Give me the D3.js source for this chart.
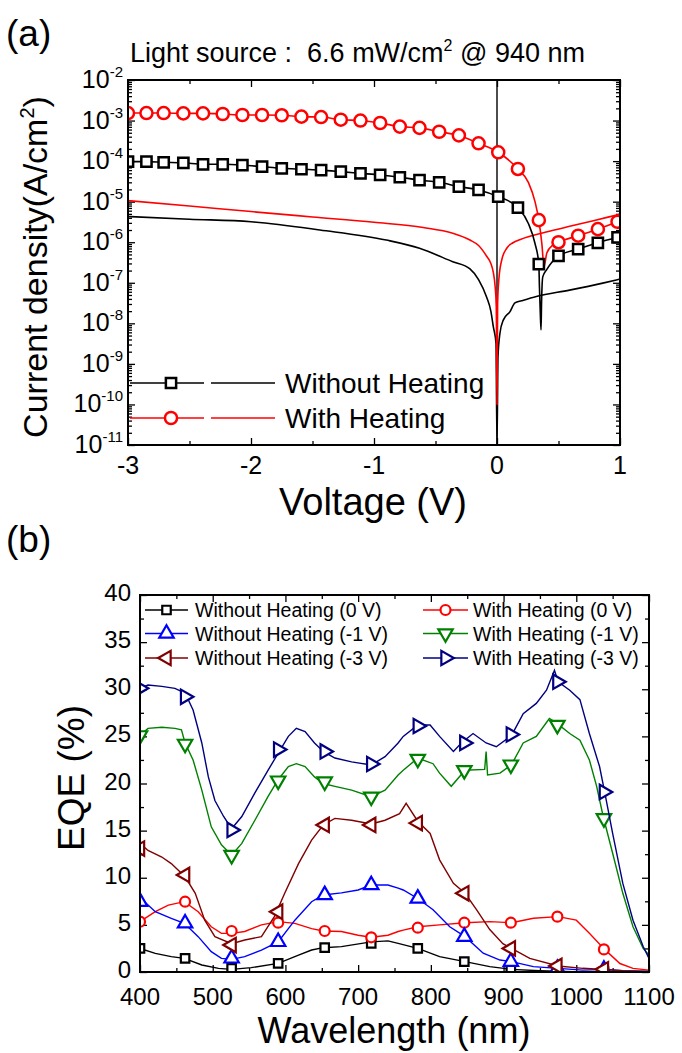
<!DOCTYPE html>
<html><head><meta charset="utf-8">
<script src="https://cdn.jsdelivr.net/npm/d3@7"></script>
<style>
body{margin:0;background:#fff}
svg{display:block}
text{font-family:"Liberation Sans",Arial,sans-serif;fill:#000}
</style>
</head><body>
<svg id="c" width="682" height="1053"></svg>
<script>
// ---------------- (a) J-V data ----------------
const markerV = [-3.00,-2.85,-2.71,-2.55,-2.39,-2.23,-2.07,-1.91,-1.75,-1.59,-1.43,-1.27,-1.11,-0.95,-0.79,-0.63,-0.47,-0.31,-0.15,0.01,0.17,0.34,0.50,0.66,0.82,0.98];
const lightWith = [1.53e-3,1.53e-3,1.53e-3,1.5e-3,1.5e-3,1.45e-3,1.37e-3,1.37e-3,1.35e-3,1.25e-3,1.22e-3,1.05e-3,1.0e-3,8.7e-4,7.1e-4,6.6e-4,5.3e-4,4.3e-4,2.75e-4,1.65e-4,6.4e-5,3.5e-6,1.0e-6,1.45e-6,2.1e-6,3.2e-6];
const lightWithout = [9.7e-5,9.7e-5,9.35e-5,9.1e-5,8.35e-5,8.35e-5,8.0e-5,7.3e-5,6.65e-5,6.3e-5,6.0e-5,5.5e-5,5.0e-5,4.55e-5,4.0e-5,3.4e-5,3.0e-5,2.35e-5,1.94e-5,1.33e-5,7.1e-6,2.9e-7,4.6e-7,6.8e-7,9.7e-7,1.32e-6];
const lightWithDip = [[0.255,3.0e-5],[0.309,1.0e-5],[0.365,9e-7],[0.382,2.5e-7],[0.405,5.4e-7],[0.455,8.5e-7]];
const lightWithoutDip = [[0.255,2.9e-6],[0.309,9.3e-7],[0.345,8e-8],[0.352,1.8e-8],[0.358,6.9e-9],[0.362,3e-8],[0.372,1.4e-7],[0.404,2.1e-7]];
const darkWith = [[-3.0,1.06e-5],[-2.5,7.8e-6],[-2.0,5.7e-6],[-1.5,4.2e-6],[-1.0,3.1e-6],[-0.6,2.3e-6],[-0.36,1.66e-6],[-0.22,1.13e-6],[-0.15,8.3e-7],[-0.084,4.5e-7],[-0.05,3.0e-7],[-0.03,1.8e-7],[-0.015,8e-8],[-0.006,2.6e-8],[0,1e-10],[0.005,3e-8],[0.015,1.2e-7],[0.038,3.6e-7],[0.079,7.1e-7],[0.13,9.7e-7],[0.19,1.17e-6],[0.4,1.78e-6],[0.6,2.5e-6],[0.8,3.5e-6],[1.0,4.9e-6]];
const darkWithout = [[-3.0,4.3e-6],[-2.5,3.7e-6],[-2.0,3.2e-6],[-1.44,2.0e-6],[-0.9,1.13e-6],[-0.63,7.1e-7],[-0.36,3.3e-7],[-0.22,2.2e-7],[-0.15,1.2e-7],[-0.084,4.4e-8],[-0.05,2.0e-8],[-0.03,8.3e-9],[-0.008,3.2e-9],[0,1e-11],[0.008,1.5e-9],[0.024,5.7e-9],[0.051,1.2e-8],[0.106,1.95e-8],[0.146,3.2e-8],[0.2,3.6e-8],[0.32,4.6e-8],[0.59,6.6e-8],[0.86,9.8e-8],[0.97,1.17e-7],[1.0,1.23e-7]];
const voltTicks = [-3,-2,-1,0,1];
const voltMinor = [-2.5,-1.5,-0.5,0.5];
const decadeExps = [-2,-3,-4,-5,-6,-7,-8,-9,-10,-11];
const legendA = ["Without Heating","With Heating"];

// ---------------- (b) EQE data ----------------
const markerNm = [400,462,526,590,654,718,782,846,910,974,1038];
const eqeW0 = [2.5,1.45,0.39,0.92,2.58,3.04,2.5,1.1,0.2,0.05,0.03];
const eqeH0 = [5.34,7.46,4.35,5.23,4.35,3.68,4.7,5.23,5.23,5.87,2.4];
const eqeW1 = [7.46,5.17,1.45,3.2,8.17,9.23,7.8,3.75,1.1,0.35,0.25];
const eqeH1 = [25.1,24.2,12.4,20.3,20.2,18.6,22.6,21.4,22.0,26.2,16.3];
const eqeW3 = [13.1,10.3,2.86,6.4,15.6,15.6,15.8,8.35,2.5,0.64,0.29];
const eqeH3 = [30.1,29.2,15.07,23.6,23.4,22.07,26.1,24.3,25.2,30.8,19.1];
const specW0 = [[400,2.5],[421,1.98],[443,1.63],[461,1.45],[485,0.74],[508,0.39],[526,0.28],[553,0.46],[590,0.92],[618,1.8],[636,2.33],[652,2.58],[677,2.69],[718,3.2],[741,3.3],[755,3.04],[782,2.5],[812,1.63],[847,1.1],[881,0.57],[911,0.28],[950,0.14],[996,0.04],[1100,0.0]];
const specH0 = [[400,5.34],[421,6.4],[439,7.1],[461,7.46],[480,6.4],[498,4.8],[512,4.1],[526,4.1],[544,4.3],[567,5.0],[590,5.34],[613,5.16],[636,4.6],[652,4.35],[677,4.3],[700,3.9],[718,3.68],[741,3.9],[755,4.3],[762,4.45],[782,4.8],[812,5.0],[847,5.23],[881,5.34],[911,5.23],[941,5.7],[975,5.87],[1000,5.5],[1018,4.1],[1039,2.4],[1060,0.9],[1078,0.39],[1100,0.2]];
const specW1 = [[400,7.9],[421,6.4],[443,5.7],[461,5.16],[480,3.75],[498,2.16],[512,1.45],[526,1.34],[544,1.63],[567,2.33],[590,3.2],[613,5.5],[636,7.46],[652,8.17],[677,8.4],[700,8.7],[718,9.23],[741,9.23],[755,8.9],[762,8.7],[782,7.8],[803,6.6],[826,4.8],[847,3.75],[872,2.0],[895,1.27],[911,1.1],[941,0.57],[975,0.39],[1009,0.2],[1039,0.28],[1064,0.14],[1100,0.07]];
const specH1 = [[400,25.1],[411,25.85],[430,25.96],[448,25.85],[457,25.7],[462,24.3],[473,22.5],[485,19.3],[498,15.4],[512,13.5],[526,12.4],[540,13.65],[558,16.1],[576,18.6],[590,20.4],[604,21.8],[615,22.1],[627,21.8],[640,20.7],[652,20.0],[668,19.7],[691,19.3],[718,18.6],[737,19.3],[755,20.9],[762,21.4],[782,22.7],[803,22.1],[812,21.1],[828,19.7],[847,21.4],[874,21.5],[876,23.4],[878,20.9],[895,21.1],[911,22.0],[927,24.3],[945,25.0],[963,26.9],[973,26.4],[991,25.3],[1005,24.6],[1018,22.5],[1028,19.7],[1037,16.5],[1050,12.6],[1064,8.35],[1078,4.8],[1092,2.5],[1100,1.8]];
const specW3 = [[400,13.65],[411,12.9],[430,12.2],[443,11.5],[462,10.1],[476,8.35],[489,5.5],[503,3.75],[526,3.0],[544,3.4],[567,3.75],[585,5.9],[599,8.35],[618,11.5],[636,14.0],[652,15.6],[668,16.3],[691,16.1],[718,15.7],[737,16.1],[757,16.8],[766,17.9],[782,16.0],[799,14.7],[812,11.9],[831,9.4],[847,8.35],[863,6.6],[881,4.5],[899,3.0],[911,2.5],[936,1.45],[975,0.64],[1009,0.39],[1037,0.28],[1064,0.14],[1100,0.07]];
const specH3 = [[400,30.1],[411,30.45],[430,30.3],[448,30.1],[462,29.6],[473,27.8],[485,24.3],[494,20.7],[503,18.2],[515,16.5],[526,15.2],[540,16.5],[558,19.0],[576,21.4],[590,23.2],[604,25.0],[615,25.85],[627,25.5],[640,24.3],[652,23.4],[668,22.7],[691,22.3],[718,21.96],[737,22.85],[755,24.3],[762,25.0],[782,26.2],[799,26.2],[812,25.0],[831,23.4],[842,24.3],[858,25.3],[876,24.3],[890,23.9],[911,25.1],[927,27.4],[945,28.5],[959,29.9],[970,32.0],[975,30.8],[991,29.9],[1005,28.9],[1018,25.3],[1032,21.8],[1039,19.1],[1050,14.7],[1064,9.4],[1078,5.5],[1092,2.7],[1100,1.45]];
const nmTicks = [400,500,600,700,800,900,1000,1100];
const nmMinor = [450,550,650,750,850,950,1050];
const eqeTicks = [0,5,10,15,20,25,30,35,40];
const eqeMinor = [2.5,7.5,12.5,17.5,22.5,27.5,32.5,37.5];
const legendB = ["Without Heating (0 V)","With Heating (0 V)","Without Heating (-1 V)","With Heating (-1 V)","Without Heating (-3 V)","With Heating (-3 V)"];

// ---------------- drawing ----------------
const svg = d3.select('#c');
const defs = svg.append('defs');

function symbolPath(type, size){
  const map = {square:d3.symbolSquare, circle:d3.symbolCircle, up:d3.symbolTriangle, down:d3.symbolTriangle, left:d3.symbolTriangle, right:d3.symbolTriangle};
  return d3.symbol(map[type], size)();
}
const rot = {square:0,circle:0,up:0,down:180,left:-90,right:90};
function drawMarker(g, type, x, y, color, size, sw){
  g.append('path').attr('d', symbolPath(type,size))
    .attr('transform', `translate(${x},${y}) rotate(${rot[type]})`)
    .attr('fill','#fff').attr('stroke',color).attr('stroke-width',sw);
}
function styleAxis(g, sw){
  g.select('.domain').remove();
  g.selectAll('.tick line').attr('stroke','#000').attr('stroke-width',sw);
  g.selectAll('.tick text').remove();
}

// ===== (a) =====
const ax = d3.scaleLinear().domain([-3,1]).range([128,620]);
const ay = d3.scaleLog().domain([1e-11,1e-2]).range([445,80]);
const [aL,aR] = ax.range(), [aB,aT] = ay.range();
defs.append('clipPath').attr('id','clipA').append('rect').attr('x',aL).attr('y',aT).attr('width',aR-aL).attr('height',aB-aT);

const gA = svg.append('g');
const aMajor = decadeExps.map(e=>Math.pow(10,e));
const aMinor = [];
decadeExps.slice(1).forEach(e=>{ for(let m=2;m<=9;m++) aMinor.push(m*Math.pow(10,e)); });

[[d3.axisBottom(ax).tickValues(voltTicks).tickSize(-7), `translate(0,${aB})`],
 [d3.axisBottom(ax).tickValues(voltMinor).tickSize(-4), `translate(0,${aB})`],
 [d3.axisTop(ax).tickValues(voltTicks).tickSize(-7), `translate(0,${aT})`],
 [d3.axisTop(ax).tickValues(voltMinor).tickSize(-4), `translate(0,${aT})`],
 [d3.axisLeft(ay).tickValues(aMajor).tickSize(-7), `translate(${aL},0)`],
 [d3.axisLeft(ay).tickValues(aMinor).tickSize(-4), `translate(${aL},0)`],
 [d3.axisRight(ay).tickValues(aMajor).tickSize(-7), `translate(${aR},0)`],
 [d3.axisRight(ay).tickValues(aMinor).tickSize(-4), `translate(${aR},0)`]
].forEach(([axis,tr])=>{ const g=gA.append('g').attr('transform',tr).call(axis.tickSizeOuter(0)); styleAxis(g,1.3); });

// zero line
gA.append('line').attr('x1',ax(0)).attr('x2',ax(0)).attr('y1',aT).attr('y2',aB).attr('stroke','#000').attr('stroke-width',1.4);

const plotA = gA.append('g').attr('clip-path','url(#clipA)');
const lineA = d3.line().x(d=>ax(d[0])).y(d=>ay(d[1])).curve(d3.curveMonotoneX);
plotA.append('path').datum(darkWithout).attr('d',lineA).attr('fill','none').attr('stroke','#000').attr('stroke-width',1.6);
plotA.append('path').datum(darkWith).attr('d',lineA).attr('fill','none').attr('stroke','#ff0000').attr('stroke-width',1.6);
const withPts = markerV.map((v,i)=>[v,lightWith[i]]).concat(lightWithDip).sort((a,b)=>a[0]-b[0]);
const withoutPts = markerV.map((v,i)=>[v,lightWithout[i]]).concat(lightWithoutDip).sort((a,b)=>a[0]-b[0]);
plotA.append('path').datum(withoutPts).attr('d',lineA).attr('fill','none').attr('stroke','#000').attr('stroke-width',1.6);
plotA.append('path').datum(withPts).attr('d',lineA).attr('fill','none').attr('stroke','#ff0000').attr('stroke-width',1.6);
markerV.forEach((v,i)=>drawMarker(plotA,'square',ax(v),ay(lightWithout[i]),'#000',105,2.5));
markerV.forEach((v,i)=>drawMarker(plotA,'circle',ax(v),ay(lightWith[i]),'#ff0000',115,2.5));

gA.append('rect').attr('x',aL).attr('y',aT).attr('width',aR-aL).attr('height',aB-aT).attr('fill','none').attr('stroke','#000').attr('stroke-width',2);

// tick labels (a)
voltTicks.forEach(v=>{
  gA.append('text').attr('x',ax(v)).attr('y',aB+29).attr('text-anchor','middle').attr('font-size',25).text(v);
});
decadeExps.forEach(e=>{
  const t = gA.append('text').attr('x',aL-5).attr('y',ay(Math.pow(10,e))+8).attr('text-anchor','end').attr('font-size',25);
  t.append('tspan').text('10');
  t.append('tspan').attr('dy',-11).attr('font-size',15).text(e);
});
// axis titles (a)
gA.append('text').attr('x',373).attr('y',515).attr('text-anchor','middle').attr('font-size',38).text('Voltage (V)');
const ylabA = gA.append('text').attr('transform','translate(47,267) rotate(-90)').attr('text-anchor','middle').attr('font-size',34);
ylabA.append('tspan').text('Current density(A/cm');
ylabA.append('tspan').attr('dy',-13).attr('font-size',20).text('2');
ylabA.append('tspan').attr('dy',13).text(')');
// title
const titleA = svg.append('text').attr('x',130).attr('y',62).attr('font-size',27);
titleA.append('tspan').text('Light source :\u00a0 6.6 mW/cm');
titleA.append('tspan').attr('dy',-11).attr('font-size',16).text('2');
titleA.append('tspan').attr('dy',11).text(' @ 940 nm');
svg.append('text').attr('x',6).attr('y',46).attr('font-size',37).text('(a)');

// legend (a)
[[383,'square','#000'],[418,'circle','#ff0000']].forEach(([y,type,col],i)=>{
  gA.append('line').attr('x1',130).attr('x2',204).attr('y1',y).attr('y2',y).attr('stroke',col).attr('stroke-width',1.6);
  drawMarker(gA,type,171,y,col,type==='square'?105:115,2.5);
  gA.append('line').attr('x1',211).attr('x2',275).attr('y1',y).attr('y2',y).attr('stroke',col).attr('stroke-width',1.6);
  gA.append('text').attr('x',285).attr('y',y+10).attr('font-size',28).text(legendA[i]);
});

// ===== (b) =====
const bx = d3.scaleLinear().domain([400,1100]).range([140,649]);
const by = d3.scaleLinear().domain([0,40]).range([972,595]);
const [bL,bR] = bx.range(), [bB,bT] = by.range();
defs.append('clipPath').attr('id','clipB').append('rect').attr('x',bL).attr('y',bT).attr('width',bR-bL).attr('height',bB-bT);
const gB = svg.append('g');
[[d3.axisBottom(bx).tickValues(nmTicks).tickSize(-7), `translate(0,${bB})`],
 [d3.axisBottom(bx).tickValues(nmMinor).tickSize(-4), `translate(0,${bB})`],
 [d3.axisTop(bx).tickValues(nmTicks).tickSize(-7), `translate(0,${bT})`],
 [d3.axisTop(bx).tickValues(nmMinor).tickSize(-4), `translate(0,${bT})`],
 [d3.axisLeft(by).tickValues(eqeTicks).tickSize(-7), `translate(${bL},0)`],
 [d3.axisLeft(by).tickValues(eqeMinor).tickSize(-4), `translate(${bL},0)`],
 [d3.axisRight(by).tickValues(eqeTicks).tickSize(-7), `translate(${bR},0)`],
 [d3.axisRight(by).tickValues(eqeMinor).tickSize(-4), `translate(${bR},0)`]
].forEach(([axis,tr])=>{ const g=gB.append('g').attr('transform',tr).call(axis.tickSizeOuter(0)); styleAxis(g,1.3); });

const seriesB = [
  {line:specW0, vals:eqeW0, color:'#000000', type:'square', size:72},
  {line:specH0, vals:eqeH0, color:'#ff0000', type:'circle', size:78},
  {line:specW1, vals:eqeW1, color:'#0000ff', type:'up', size:90},
  {line:specH1, vals:eqeH1, color:'#008000', type:'down', size:90},
  {line:specW3, vals:eqeW3, color:'#800000', type:'left', size:90},
  {line:specH3, vals:eqeH3, color:'#000080', type:'right', size:90}
];
const plotB = gB.append('g').attr('clip-path','url(#clipB)');
const lineB = d3.line().x(d=>bx(d[0])).y(d=>by(d[1]));
seriesB.forEach(s=>{
  plotB.append('path').datum(s.line).attr('d',lineB).attr('fill','none').attr('stroke',s.color).attr('stroke-width',1.4);
  markerNm.forEach((n,i)=>drawMarker(plotB,s.type,bx(n),by(s.vals[i]),s.color,s.size,2.2));
});
gB.append('rect').attr('x',bL).attr('y',bT).attr('width',bR-bL).attr('height',bB-bT).attr('fill','none').attr('stroke','#000').attr('stroke-width',2);

nmTicks.forEach(v=>{
  gB.append('text').attr('x',bx(v)).attr('y',bB+33).attr('text-anchor','middle').attr('font-size',24).text(v);
});
eqeTicks.forEach(v=>{
  gB.append('text').attr('x',bL-9).attr('y',by(v)+6).attr('text-anchor','end').attr('font-size',24).text(v);
});
gB.append('text').attr('x',394).attr('y',1043).attr('text-anchor','middle').attr('font-size',36).text('Wavelength (nm)');
gB.append('text').attr('transform','translate(84,778) rotate(-90)').attr('text-anchor','middle').attr('font-size',37).text('EQE (%)');
svg.append('text').attr('x',6).attr('y',552).attr('font-size',37).text('(b)');

// legend (b)
const legRows = [610,633.5,658];
seriesB.forEach((s,i)=>{
  const col = i%2, row = Math.floor(i/2);
  const y = legRows[row];
  const x1 = col===0?145:423, x2 = col===0?188:468, tx = col===0?195:473;
  gB.append('line').attr('x1',x1).attr('x2',x2).attr('y1',y).attr('y2',y).attr('stroke',s.color).attr('stroke-width',1.4);
  drawMarker(gB,s.type,(x1+x2)/2,y,s.color,s.size,2.2);
  gB.append('text').attr('x',tx).attr('y',y+7).attr('font-size',19.5).text(legendB[i]);
});
</script>
</body></html>
